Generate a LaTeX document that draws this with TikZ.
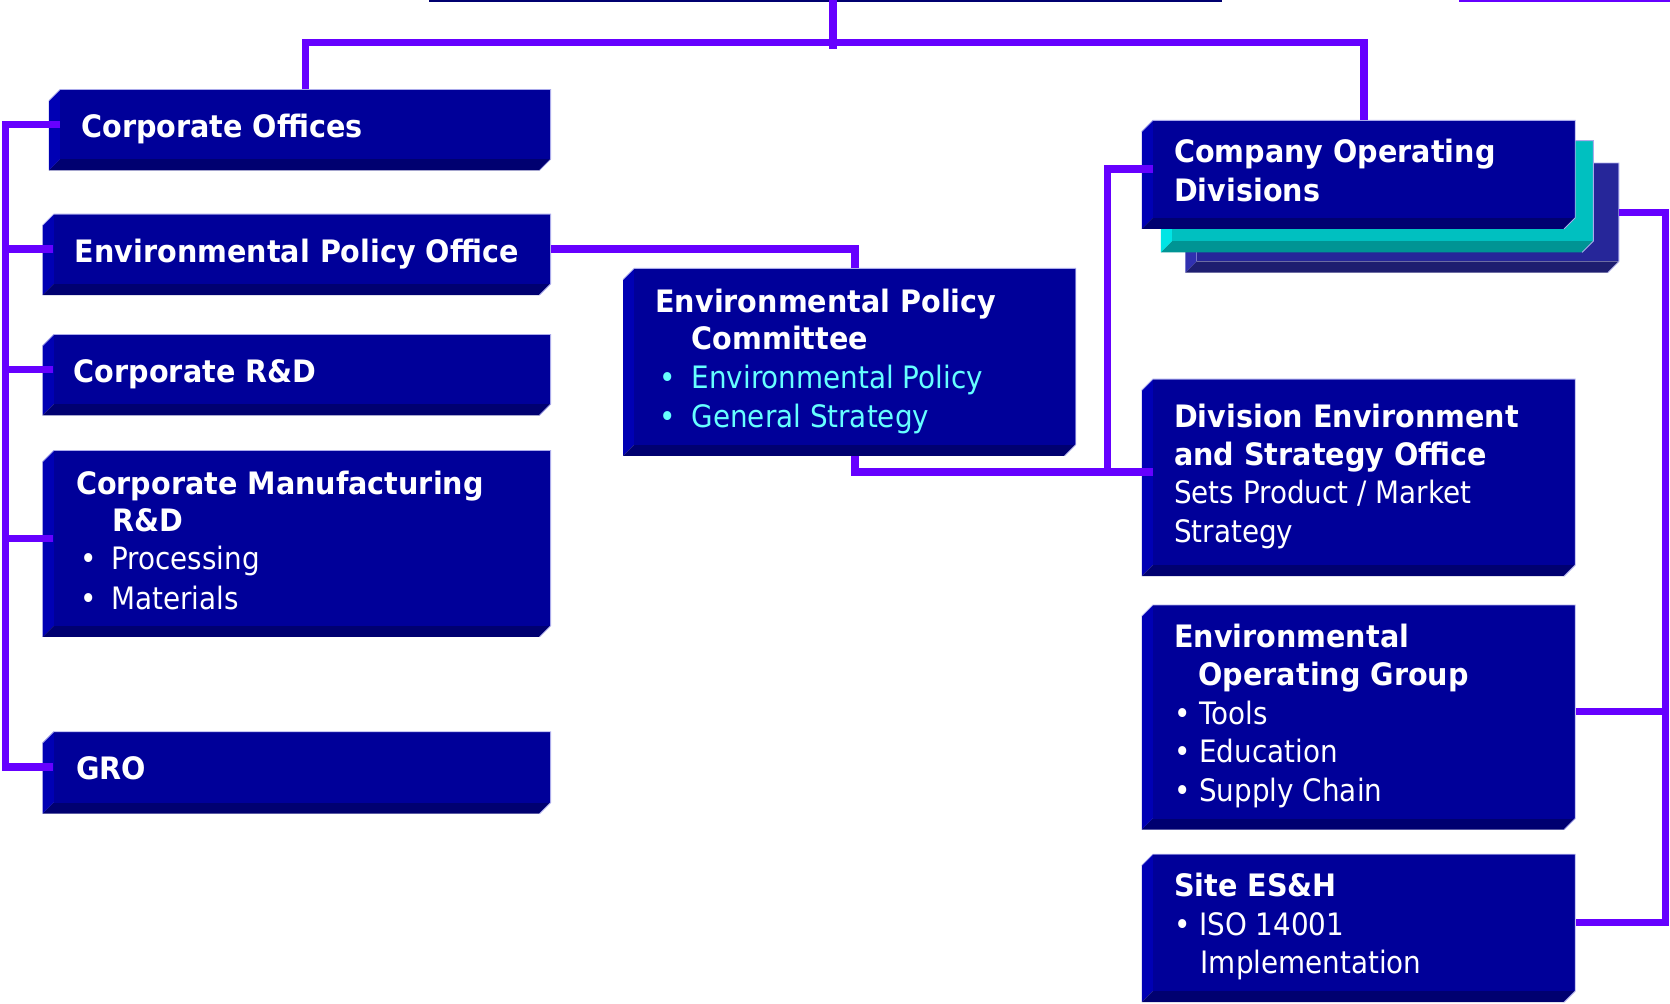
\documentclass[tikz,border=0pt]{standalone}
\usepackage{fontspec}
\setmainfont{DejaVu Sans}[FakeStretch=0.9, BoldFeatures={FakeStretch=0.927}]
\usetikzlibrary{fit}
\definecolor{frontc}{RGB}{0,0,153}
\definecolor{lface}{RGB}{0,0,180}
\definecolor{bface}{RGB}{0,0,112}
\definecolor{connc}{RGB}{102,0,255}
\definecolor{cyant}{RGB}{102,255,255}
\definecolor{tealf}{RGB}{0,192,192}
\definecolor{teall}{RGB}{0,229,229}
\definecolor{tealb}{RGB}{0,148,148}
\definecolor{darkf}{RGB}{38,38,153}
\definecolor{darkl}{RGB}{48,48,176}
\definecolor{darkb}{RGB}{30,30,112}
\definecolor{edgec}{RGB}{170,170,235}
\tikzset{
  connline/.style={draw=connc, line width=3.4pt},
  lbl/.style={anchor=base west, inner sep=0pt, text=white, font=\bfseries\fontsize{14.5}{18}\selectfont},
  lblr/.style={lbl, font=\fontsize{14.5}{18}\selectfont},
  lblc/.style={lblr, text=cyant},
}
\newcommand{\bevbox}[8]{%
  \fill[#7] (#2,#3+10.5) -- (#2+10.5,#3) -- (#2+10.5,#5-10.5) -- (#2,#5) -- cycle;
  \fill[#8] (#2,#5) -- (#2+10.5,#5-10.5) -- (#4,#5-10.5) -- (#4-10.5,#5) -- cycle;
  \coordinate (#1-nw) at (#2+10.5,#3);
  \coordinate (#1-se) at (#4,#5-10.5);
  \node[fit=(#1-nw)(#1-se), inner sep=0pt, fill=#6] (#1) {};
  \draw[edgec, line width=0.4pt] (#2,#3+10.5) -- (#2+10.5,#3) -- (#4,#3) -- (#4,#5-10.5) -- (#4-10.5,#5);
}
\begin{document}
\begin{tikzpicture}[x=0.5pt, y=-0.5pt]
\useasboundingbox (0,0) rectangle (1568,942);
\clip (0,0) rectangle (1568,942);
% cut-off shapes at the top edge
\fill[bface] (403,-10) rectangle (1147,2);
\fill[connc] (1370,-10) rectangle (1568,2);
% boxes
\bevbox{co}{46}{84}{517}{160}{frontc}{lface}{bface}
\bevbox{epo}{40}{201}{517}{277}{frontc}{lface}{bface}
\bevbox{crd}{40}{314}{517}{390}{frontc}{lface}{bface}
\bevbox{cmrd}{40}{423}{517}{598}{frontc}{lface}{bface}
\bevbox{gro}{40}{687}{517}{764}{frontc}{lface}{bface}
\bevbox{epc}{585}{252}{1010}{428}{frontc}{lface}{bface}
\bevbox{codc}{1113}{153}{1520}{256}{darkf}{darkl}{darkb}
\bevbox{codb}{1090}{132}{1496}{237}{tealf}{teall}{tealb}
\bevbox{cod}{1072}{113}{1479}{215}{frontc}{lface}{bface}
\bevbox{deso}{1072}{356}{1479}{541}{frontc}{lface}{bface}
\bevbox{eog}{1072}{568}{1479}{779}{frontc}{lface}{bface}
\bevbox{site}{1072}{802}{1479}{941}{frontc}{lface}{bface}
% connectors
\coordinate (lbus) at (5.5,0);
\coordinate (rbus) at (1564,0);
\coordinate (mbus) at (1040,0);
\coordinate (tj) at (782,40);
\coordinate (tin) at (782,-4);
\coordinate (tend) at (782,46);
\draw[connline] (tin) -- (tend);
\draw[connline] (co.north) |- (tj) -| (cod.north);
\draw[connline] (co.west) -- (co.west -| lbus) |- (gro.west);
\draw[connline] (epo.west) -- (epo.west -| lbus);
\draw[connline] (crd.west) -- (crd.west -| lbus);
\draw[connline] (cmrd.west) -- (cmrd.west -| lbus);
\draw[connline] (epo.east) -| (epc.north);
\draw[connline] (cod.west) -- (cod.west -| mbus) |- (deso.west);
\draw[connline] ([yshift=-5.25pt]epc.south) |- (deso.west);
\draw[connline] (codc.east) -- (codc.east -| rbus) |- (site.east);
\draw[connline] (eog.east) -- (eog.east -| rbus);
% texts
\node[lbl] (t1) at (76,129) {Corporate Offices};
\node[lbl] (t2) at (70,246) {Environmental Policy Office};
\node[lbl] (t3) at (69,359) {Corporate R\&D};
\node[lbl] (t4) at (71,464) {Corporate Manufacturing};
\node[lbl] (t5) at (105,499) {R\&D};
\node[lblr] (t6) at (75,535) {•};
\node[lblr] (t7) at (104,535) {Processing};
\node[lblr] (t8) at (75,572) {•};
\node[lblr] (t9) at (104,572) {Materials};
\node[lbl] (t10) at (71,732) {GRO};
\node[lbl] (t11) at (615,293) {Environmental Policy};
\node[lbl] (t12) at (649,328) {Committee};
\node[lblc] (t13) at (619,365) {•};
\node[lblc] (t14) at (649,365) {Environmental Policy};
\node[lblc] (t15) at (619,401) {•};
\node[lblc] (t16) at (649,401) {General Strategy};
\node[lbl] (t17) at (1102,153) {Company Operating};
\node[lbl] (t18) at (1102,189) {Divisions};
\node[lbl] (t19) at (1102,401) {Division Environment};
\node[lbl] (t20) at (1102,437) {and Strategy Office};
\node[lblr] (t21) at (1102,473) {Sets Product / Market};
\node[lblr] (t22) at (1102,509) {Strategy};
\node[lbl] (t23) at (1102,608) {Environmental};
\node[lbl] (t24) at (1125,644) {Operating Group};
\node[lblr] (t25) at (1102,680) {• Tools};
\node[lblr] (t26) at (1102,716) {• Education};
\node[lblr] (t27) at (1102,753) {• Supply Chain};
\node[lbl] (t28) at (1102,842) {Site ES\&H};
\node[lblr] (t29) at (1102,878) {• ISO 14001};
\node[lblr] (t30) at (1127,914) {Implementation};
\end{tikzpicture}
\end{document}
